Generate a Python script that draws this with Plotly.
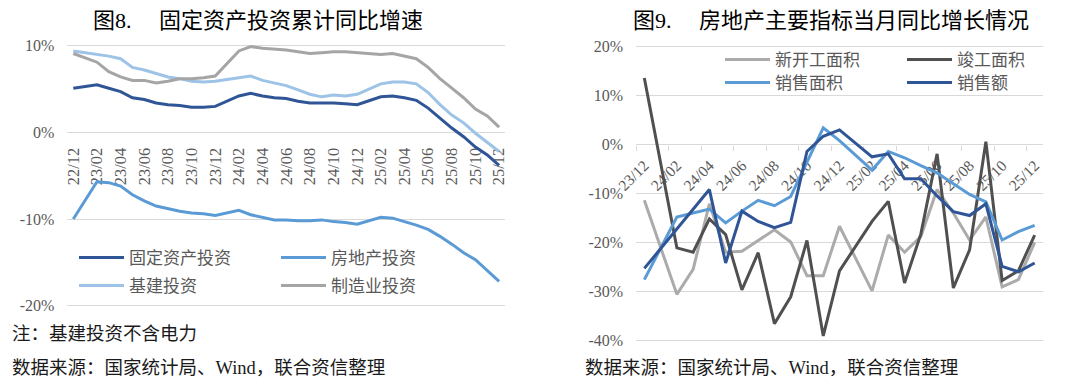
import plotly.graph_objects as go

# ---------------- data ----------------
months_left = ["22/12", "23/01", "23/02", "23/03", "23/04", "23/05", "23/06", "23/07", "23/08",
               "23/09", "23/10", "23/11", "23/12", "24/01", "24/02", "24/03", "24/04", "24/05",
               "24/06", "24/07", "24/08", "24/09", "24/10", "24/11", "24/12", "25/01", "25/02",
               "25/03", "25/04", "25/05", "25/06", "25/07", "25/08", "25/09", "25/10", "25/11",
               "25/12"]
fai = [5.1, None, 5.5, 5.1, 4.7, 4.0, 3.8, 3.4, 3.2, 3.1, 2.9, 2.9, 3.0,
       None, 4.2, 4.5, 4.2, 4.0, 3.9, 3.6, 3.4, 3.4, 3.4, 3.3, 3.2,
       None, 4.1, 4.2, 4.0, 3.7, 2.8, 1.6, 0.5, -0.5, -1.7, -2.6, -3.8]
real_estate = [-10.0, None, -5.7, -5.8, -6.2, -7.2, -7.9, -8.5, -8.8, -9.1, -9.3, -9.4, -9.6,
               None, -9.0, -9.5, -9.8, -10.1, -10.1, -10.2, -10.2, -10.1, -10.3, -10.4, -10.6,
               None, -9.8, -9.9, -10.3, -10.7, -11.2, -12.0, -12.9, -13.9, -14.7, -15.9, -17.2]
infra = [9.4, None, 9.0, 8.8, 8.5, 7.5, 7.2, 6.8, 6.4, 6.2, 5.9, 5.8, 5.9,
         None, 6.3, 6.5, 6.0, 5.7, 5.4, 4.9, 4.4, 4.1, 4.3, 4.2, 4.4,
         None, 5.6, 5.8, 5.8, 5.6, 4.6, 3.2, 2.0, 1.1, -0.1, -1.1, -2.2]
manuf = [9.1, None, 8.1, 7.0, 6.4, 6.0, 6.0, 5.7, 5.9, 6.2, 6.2, 6.3, 6.5,
         None, 9.4, 9.9, 9.7, 9.6, 9.5, 9.3, 9.1, 9.2, 9.3, 9.3, 9.2,
         None, 9.0, 9.1, 8.8, 8.5, 7.5, 6.2, 5.1, 4.0, 2.7, 1.9, 0.6]

months_right = ["23/12", "24/01", "24/02", "24/03", "24/04", "24/05", "24/06", "24/07", "24/08",
                "24/09", "24/10", "24/11", "24/12", "25/01", "25/02", "25/03", "25/04", "25/05",
                "25/06", "25/07", "25/08", "25/09", "25/10", "25/11", "25/12"]
new_start = [-11.4, None, -30.6, -25.5, -12.1, -22.0, -21.8, -19.6, -17.4, -19.9, -26.8, -26.8,
             -16.7, None, -29.9, -18.5, -22.0, -18.8, -9.2, -14.0, -19.5, -14.8, -29.1, -27.6, -20.0]
completed = [13.6, None, -21.1, -22.0, -15.2, -18.4, -29.7, -22.1, -36.6, -31.1, -19.6, -39.1,
             -25.8, None, -15.7, -11.6, -28.3, -18.3, -1.9, -29.3, -21.5, 0.6, -27.8, -25.8, -18.5]
sales_area = [-27.6, None, -14.8, -14.0, -13.2, -16.0, -13.6, -11.4, -12.5, -10.6, -3.5, 3.4,
              0.8, None, -5.2, -1.4, -2.7, -4.3, -5.8, -8.0, -10.2, -11.7, -19.5, -17.8, -16.5]
sales_value = [-25.3, None, None, None, -9.2, -24.2, -13.6, -15.7, -17.0, -15.9, -1.4, 1.7,
               3.0, None, -2.5, -1.9, -7.0, -7.0, -10.5, -13.7, -14.5, -12.1, -24.9, -26.0, -24.2]

left_ticks = [-20, -10, 0, 10]
left_tick_text = ["-20%", "-10%", "0%", "10%"]
right_ticks = [-40, -30, -20, -10, 0, 10, 20]
right_tick_text = ["-40%", "-30%", "-20%", "-10%", "0%", "10%", "20%"]

left_names = ["固定资产投资", "房地产投资", "基建投资", "制造业投资"]
right_names = ["新开工面积", "竣工面积", "销售面积", "销售额"]

title_left = "图8.\u00a0\u00a0\u00a0\u00a0\u00a0固定资产投资累计同比增速"
title_right = "图9.\u00a0\u00a0\u00a0\u00a0\u00a0房地产主要指标当月同比增长情况"
note_left = "注：基建投资不含电力"
source_text = "数据来源：国家统计局、Wind，联合资信整理"

# ---------------- style ----------------
W, H = 1080, 386
def fx(p):
    return p / W
def fy(p):
    return 1 - p / H

SERIF = "Liberation Serif, Noto Sans CJK SC"
CJK = "Noto Sans CJK SC"
GRID = "#D9D9D9"
TXT = "#595959"

left_colors = ["#2F5597", "#5B9BD5", "#9DC3E6", "#A5A5A5"]
right_colors = ["#ABABAB", "#505050", "#5B9BD5", "#2F5597"]

xl_dom = [fx(67.4), fx(505.0)]
yl_dom = [fy(307.4), fy(44.0)]
yl_rng = [-20.2, 10.2]
xr_dom = [fx(636.2), fx(1042.8)]
yr_dom = [fy(341.8), fy(45.2)]
yr_rng = [-40.3, 20.3]

def zero_pos(dom, rng):
    return dom[0] + (0 - rng[0]) / (rng[1] - rng[0]) * (dom[1] - dom[0])

fig = go.Figure()

left_data = [fai, real_estate, infra, manuf]
for k, (name, vals, col) in enumerate(zip(left_names, left_data, left_colors)):
    fig.add_trace(go.Scatter(
        x=list(range(len(months_left))), y=vals, name=name, mode="lines",
        connectgaps=True, line=dict(color=col, width=3),
        xaxis="x", yaxis="y", legend="legend" if k == 0 else f"legend{k+1}"))

right_data = [new_start, completed, sales_area, sales_value]
for k, (name, vals, col) in enumerate(zip(right_names, right_data, right_colors)):
    fig.add_trace(go.Scatter(
        x=list(range(len(months_right))), y=vals, name=name, mode="lines",
        connectgaps=True, line=dict(color=col, width=3),
        xaxis="x2", yaxis="y2", legend=f"legend{k+5}"))

tick_font = dict(family=SERIF, size=16, color=TXT)

fig.update_layout(
    width=W, height=H,
    margin=dict(l=0, r=0, t=0, b=0),
    paper_bgcolor="white", plot_bgcolor="white",
    showlegend=True,
    xaxis=dict(domain=xl_dom, range=[-0.5, len(months_left) - 0.5], anchor="free",
               position=zero_pos(yl_dom, yl_rng),
               tickmode="array", tickvals=list(range(0, len(months_left), 2)),
               ticktext=months_left[::2], tickangle=-90,
               tickfont=dict(family=SERIF, size=16.5, color=TXT),
               showgrid=False, zeroline=False, showline=False, ticks="",
               ticklabelstandoff=11, layer="below traces", automargin=False),
    yaxis=dict(domain=yl_dom, range=yl_rng, anchor="x", tickmode="array",
               tickvals=left_ticks, ticktext=left_tick_text, tickfont=tick_font,
               showgrid=True, gridcolor=GRID, gridwidth=1.3, zeroline=False,
               showline=False, ticks="", ticklabelstandoff=12, automargin=False),
    xaxis2=dict(domain=xr_dom, range=[-0.5, len(months_right) - 0.5], anchor="free",
                position=zero_pos(yr_dom, yr_rng),
                tickmode="array", tickvals=list(range(0, len(months_right), 2)),
                ticktext=months_right[::2], tickangle=-45,
                tickfont=dict(family=SERIF, size=15.5, color=TXT),
                showgrid=False, zeroline=False, showline=False, ticks="",
                minor=dict(tickmode="array",
                           tickvals=[v - 0.5 for v in range(0, len(months_right), 2)],
                           ticks="outside", ticklen=5, tickwidth=1.3, tickcolor=GRID,
                           showgrid=False),
                ticklabelstandoff=8, layer="below traces", automargin=False),
    yaxis2=dict(domain=yr_dom, range=yr_rng, anchor="x2", tickmode="array",
                tickvals=right_ticks, ticktext=right_tick_text, tickfont=tick_font,
                showgrid=True, gridcolor=GRID, gridwidth=1.3, zeroline=False,
                showline=False, ticks="", ticklabelstandoff=12, automargin=False),
)

leg_font = dict(family=CJK, size=17, color=TXT)
leg_pos = [(79, 258), (281, 258), (79, 286), (281, 286),
           (725, 60), (907, 60), (725, 83), (907, 83)]
for k, (lx, ly) in enumerate(leg_pos):
    key = "legend" if k == 0 else f"legend{k+1}"
    fig.update_layout({key: dict(x=fx(lx - 5), y=fy(ly), xanchor="left", yanchor="middle",
                                 orientation="h", bgcolor="rgba(0,0,0,0)", borderwidth=0,
                                 font=leg_font, itemwidth=45)})

annots = [
    dict(text=title_left, x=fx(258), y=fy(21), font=dict(family=SERIF, size=22, color="black")),
    dict(text=title_right, x=fx(831), y=fy(21), font=dict(family=SERIF, size=22, color="black")),
]
for a in annots:
    a.update(xref="paper", yref="paper", xanchor="center", yanchor="middle", showarrow=False)
notes = [
    dict(text=note_left, x=fx(10), y=fy(334)),
    dict(text=source_text, x=fx(10), y=fy(368)),
    dict(text=source_text, x=fx(583), y=fy(368)),
]
for a in notes:
    a.update(xref="paper", yref="paper", xanchor="left", yanchor="middle", showarrow=False,
             font=dict(family=SERIF, size=18.5, color="#1A1A1A"))
fig.update_layout(annotations=annots + notes)

fig.write_html("out.html", config={"displayModeBar": False},
               post_script="document.body.style.margin='0';")
